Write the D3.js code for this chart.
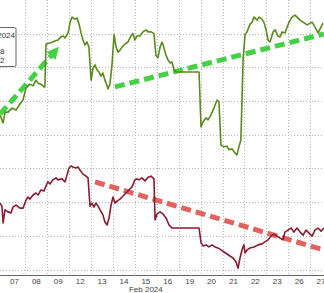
<!DOCTYPE html>
<html>
<head>
<meta charset="utf-8">
<script src="https://cdn.jsdelivr.net/npm/d3@7"></script>
<style>
  body { margin: 0; background: #fff; }
  svg { display: block; font-family: "Liberation Sans", Arial, sans-serif; }
</style>
</head>
<body>
<div id="chart"></div>
<script>
const width = 324, height = 293;

// trading days shown (index 0 = Feb 07)
const dayLabels = ["07", "08", "09", "12", "13", "14", "15", "16", "19", "20", "21", "22", "23", "26", "27"];
const monthLabel = "Feb 2024";
const legendLines = ["Feb 2024", "5.18", "4.32"];

// [trading-day index, value]
const greenSeries = [
  [-0.16, 4.58], [-0.02, 4.35], [0.07, 4.67], [0.21, 4.67], [0.39, 4.79], [0.57, 4.73],
  [0.75, 4.91], [0.89, 5.03], [1.03, 5.39], [1.21, 5.50], [1.35, 5.45], [1.48, 5.62],
  [1.58, 5.53], [1.71, 5.50], [1.85, 5.42], [1.89, 5.42], [1.94, 6.69], [2.12, 6.72],
  [2.35, 6.78], [2.49, 6.81], [2.63, 6.91], [2.72, 6.93], [2.81, 6.87], [2.95, 7.02],
  [3.04, 7.34], [3.13, 7.49], [3.26, 7.43], [3.36, 7.46], [3.45, 7.28], [3.54, 7.02],
  [3.63, 6.81], [3.72, 6.66], [3.81, 6.75], [3.90, 6.60], [4.00, 5.62], [4.09, 5.98],
  [4.18, 6.07], [4.27, 5.92], [4.36, 5.86], [4.45, 5.74], [4.54, 5.83], [4.63, 5.62],
  [4.73, 5.45], [4.77, 5.36], [4.86, 5.50], [4.95, 6.04], [5.05, 6.97], [5.14, 6.60],
  [5.23, 6.45], [5.32, 6.51], [5.41, 6.60], [5.55, 6.69], [5.68, 6.75], [5.82, 6.93],
  [5.91, 7.00], [6.00, 6.81], [6.10, 6.93], [6.23, 6.93], [6.37, 7.05], [6.51, 7.11],
  [6.60, 7.05], [6.74, 7.05], [6.87, 7.00], [6.96, 6.36], [7.05, 6.28], [7.15, 6.60],
  [7.24, 6.75], [7.33, 6.57], [7.42, 6.36], [7.51, 6.22], [7.60, 6.13], [7.69, 6.16],
  [7.79, 5.92], [7.88, 5.86], [8.93, 5.86], [9.02, 4.23], [9.11, 4.38], [9.25, 4.50],
  [9.34, 4.44], [9.47, 4.58], [9.61, 4.79], [9.75, 5.03], [9.84, 4.97], [9.93, 3.69],
  [10.07, 3.64], [10.21, 3.66], [10.30, 3.55], [10.43, 3.58], [10.57, 3.46], [10.66, 3.40],
  [10.75, 3.64], [10.84, 3.84], [10.94, 6.22], [11.03, 6.97], [11.12, 7.05], [11.26, 7.28],
  [11.35, 7.34], [11.44, 7.49], [11.58, 7.40], [11.67, 7.49], [11.80, 7.43], [11.89, 7.34],
  [11.99, 7.11], [12.08, 6.81], [12.17, 6.75], [12.31, 7.05], [12.40, 7.11], [12.53, 6.93],
  [12.63, 6.90], [12.72, 7.05], [12.85, 7.02], [13.04, 7.34], [13.17, 7.49], [13.31, 7.55],
  [13.54, 7.40], [13.86, 7.26], [14.09, 7.34], [14.22, 7.20], [14.36, 7.02], [14.59, 7.31]
];

const redSeries = [
  [-0.16, 1.97], [-0.07, 1.88], [-0.02, 1.38], [0.07, 1.77], [0.21, 1.71], [0.34, 1.68],
  [0.43, 1.85], [0.57, 1.91], [0.75, 1.82], [0.89, 1.82], [1.03, 2.06], [1.12, 2.15],
  [1.21, 2.09], [1.35, 2.21], [1.48, 2.27], [1.58, 2.21], [1.71, 2.36], [1.85, 2.33],
  [1.94, 2.48], [2.03, 2.60], [2.12, 2.54], [2.26, 2.66], [2.40, 2.72], [2.49, 2.66],
  [2.67, 2.69], [2.81, 2.60], [2.90, 2.80], [2.99, 3.01], [3.08, 3.07], [3.17, 3.04],
  [3.31, 3.01], [3.40, 3.04], [3.49, 2.95], [3.63, 2.83], [3.77, 2.77], [3.86, 2.72],
  [3.95, 1.88], [4.04, 1.97], [4.13, 1.85], [4.22, 1.97], [4.32, 1.88], [4.41, 1.77],
  [4.54, 1.62], [4.63, 1.41], [4.73, 1.32], [4.82, 1.53], [4.91, 1.91], [5.00, 2.15],
  [5.09, 1.97], [5.18, 2.03], [5.32, 2.09], [5.46, 2.18], [5.59, 2.27], [5.73, 2.36],
  [5.87, 2.45], [6.00, 2.66], [6.10, 2.69], [6.19, 2.66], [6.32, 2.72], [6.46, 2.63],
  [6.60, 2.74], [6.74, 2.77], [6.87, 2.69], [6.92, 1.47], [7.01, 1.65], [7.15, 1.71],
  [7.28, 1.65], [7.42, 1.53], [7.56, 1.32], [7.69, 1.23], [8.93, 1.23], [9.02, 0.79],
  [9.11, 0.70], [9.25, 0.73], [9.38, 0.67], [9.52, 0.73], [9.66, 0.67], [9.79, 0.64],
  [9.93, 0.58], [10.07, 0.52], [10.21, 0.46], [10.34, 0.40], [10.48, 0.34], [10.62, 0.22],
  [10.71, 0.04], [10.80, 0.34], [10.89, 0.58], [10.98, 0.73], [11.03, 0.49], [11.12, 0.58],
  [11.26, 0.64], [11.44, 0.67], [11.62, 0.73], [11.80, 0.76], [11.94, 0.82], [12.08, 0.88],
  [12.21, 0.99], [12.35, 1.05], [12.49, 0.99], [12.63, 0.93], [12.76, 0.88], [12.85, 1.11],
  [12.99, 1.17], [13.13, 1.23], [13.26, 1.11], [13.40, 1.23], [13.54, 1.11], [13.68, 1.02],
  [13.81, 1.17], [13.95, 1.08], [14.09, 0.99], [14.22, 1.17], [14.36, 1.23], [14.50, 1.14],
  [14.63, 1.23]
];

// hand drawn trend arrows
const greenTrendA = [[-0.16, 4.61], [2.44, 6.54]];
const greenTrendB = [[5.09, 5.42], [14.63, 6.99]];
const redTrend = [[4.18, 2.60], [14.63, 0.58]];

const x = d3.scaleLinear().domain([0, 1]).range([3.5, 25.4]);
const y = d3.scaleLinear().domain([0, 1]).range([269.5, 235.8]);

const svg = d3.select("#chart").append("svg")
  .attr("width", width)
  .attr("height", height);

svg.append("rect").attr("width", width).attr("height", height).attr("fill", "#fff");

// grid
const grid = svg.append("g")
  .attr("stroke", "#b8b8b8")
  .attr("stroke-width", 1)
  .attr("stroke-dasharray", "1,2");

grid.selectAll("line.v")
  .data(d3.range(1, dayLabels.length))
  .join("line")
  .attr("class", "v")
  .attr("x1", d => Math.round(x(d)) + 0.5)
  .attr("x2", d => Math.round(x(d)) + 0.5)
  .attr("y1", 0)
  .attr("y2", 275);

grid.selectAll("line.h")
  .data(d3.range(0, 8))
  .join("line")
  .attr("class", "h")
  .attr("x1", 0)
  .attr("x2", width)
  .attr("y1", d => Math.round(y(d)) + 0.5)
  .attr("y2", d => Math.round(y(d)) + 0.5);

// x axis
svg.append("line")
  .attr("x1", 0).attr("x2", width)
  .attr("y1", 275.5).attr("y2", 275.5)
  .attr("stroke", "#666").attr("stroke-width", 1);

svg.append("g")
  .selectAll("text")
  .data(dayLabels)
  .join("text")
  .attr("x", (d, i) => x(i + 0.5))
  .attr("y", 284)
  .attr("text-anchor", "middle")
  .attr("font-size", 8)
  .attr("fill", "#444")
  .text(d => d);

svg.append("text")
  .attr("x", x(6.5))
  .attr("y", 292)
  .attr("text-anchor", "middle")
  .attr("font-size", 8)
  .attr("fill", "#444")
  .text(monthLabel);

const line = d3.line().x(d => x(d[0])).y(d => y(d[1]));

// trend dashes (drawn under the data lines)
function trend(data, color) {
  svg.append("path")
    .datum(data)
    .attr("d", line)
    .attr("fill", "none")
    .attr("stroke", color)
    .attr("stroke-width", 5)
    .attr("stroke-dasharray", "10,5");
}
trend(greenTrendA, "#46d046");
trend(greenTrendB, "#46d046");
trend(redTrend, "#e2625f");

// small arrow head at the end of the first green trend
const a0 = greenTrendA[0], a1 = greenTrendA[1];
const ang = Math.atan2(y(a1[1]) - y(a0[1]), x(a1[0]) - x(a0[0]));
const hx = x(a1[0]), hy = y(a1[1]);
svg.append("path")
  .attr("d", d3.line()([
    [hx + 3 * Math.cos(ang), hy + 3 * Math.sin(ang)],
    [hx - 9 * Math.cos(ang) + 6 * Math.sin(ang), hy - 9 * Math.sin(ang) - 6 * Math.cos(ang)],
    [hx - 9 * Math.cos(ang) - 6 * Math.sin(ang), hy - 9 * Math.sin(ang) + 6 * Math.cos(ang)]
  ]) + "Z")
  .attr("fill", "#46d046");

svg.append("path")
  .datum(greenSeries)
  .attr("d", line)
  .attr("fill", "none")
  .attr("stroke", "#5b8a1c")
  .attr("stroke-width", 1.6)
  .attr("stroke-linejoin", "round");

svg.append("path")
  .datum(redSeries)
  .attr("d", line)
  .attr("fill", "none")
  .attr("stroke", "#8a1a30")
  .attr("stroke-width", 1.6)
  .attr("stroke-linejoin", "round");

// legend box, cut off at the left edge
const legend = svg.append("g");
legend.append("rect")
  .attr("x", -10).attr("y", 27.5)
  .attr("width", 26).attr("height", 39)
  .attr("rx", 1.5)
  .attr("fill", "#fff")
  .attr("stroke", "#666")
  .attr("stroke-width", 1);
legend.selectAll("text")
  .data(legendLines)
  .join("text")
  .attr("x", (d, i) => i === 0 ? 15 : 4.5)
  .attr("y", (d, i) => [38, 54, 63][i])
  .attr("text-anchor", "end")
  .attr("font-size", 8)
  .attr("fill", "#333")
  .text(d => d);
</script>
</body>
</html>
